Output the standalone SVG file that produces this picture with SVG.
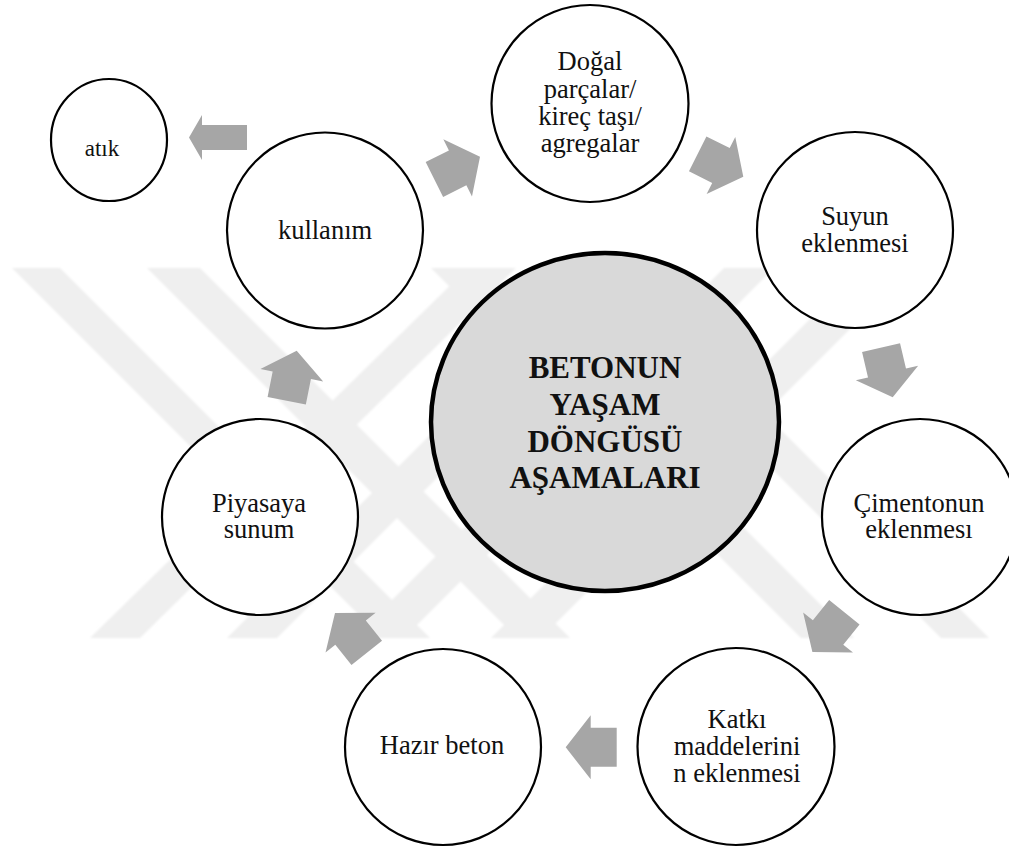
<svg xmlns="http://www.w3.org/2000/svg" xmlns:xlink="http://www.w3.org/1999/xlink" width="1009" height="848" viewBox="0 0 1009 848">
  <style>
    .node { fill: #ffffff; stroke: #000000; stroke-width: 2.2; }
    .hub { fill: #d9d9d9; stroke: #000000; stroke-width: 4.5; }
    .arrow { fill: #a6a6a6; }
    .band { fill: #efefef; }
  </style>
  <defs>
    <!-- block arrow, tip at the origin, pointing along +x -->
    <path id="blk" d="M0,0 L-25,-32 L-25,-19.5 L-51,-19.5 L-51,19.5 L-25,19.5 L-25,32 Z"/>
    <filter id="soft" x="-5%" y="-5%" width="110%" height="110%">
      <feGaussianBlur stdDeviation="1.2"/>
    </filter>
  </defs>

  <rect width="1009" height="848" fill="#ffffff"/>

  <!-- faint background emblem: two crossed double bands -->
  <g id="emblem" filter="url(#soft)">
    <polygon class="band" points="12,268 60,268 430,638 382,638"/>
    <polygon class="band" points="147,268 200,268 570,638 517,638"/>
    <polygon class="band" points="90,638 140,638 516,268 468,268"/>
    <polygon class="band" points="227,638 277,638 647,268 597,268"/>
    <polygon class="band" points="941,638 989,638 619,268 571,268"/>
    <polygon class="band" points="801,638 854,638 484,268 431,268"/>
    <polygon class="band" points="861,268 911,268 541,638 491,638"/>
    <polygon class="band" points="724,268 774,268 404,638 354,638"/>
  </g>

  <!-- connectors -->
  <g id="connectors" class="arrow">
    <path d="M189,137.5 L202,115 L202,125 L247,125 L247,150 L202,150 L202,160 Z"/>
    <use xlink:href="#blk" transform="translate(480,156.7) rotate(-26.6)"/>
    <use xlink:href="#blk" transform="translate(743.3,176.7) rotate(26.6)"/>
    <use xlink:href="#blk" transform="translate(892.7,397.3) rotate(76.8)"/>
    <use xlink:href="#blk" transform="translate(812.4,652) rotate(128.8)"/>
    <use xlink:href="#blk" transform="translate(565.7,747.3) rotate(180)"/>
    <use xlink:href="#blk" transform="translate(335,613) rotate(231.5)"/>
    <use xlink:href="#blk" transform="translate(296.7,350.7) rotate(-78.7)"/>
  </g>

  <g id="hub">
    <ellipse class="hub" cx="605" cy="422" rx="174" ry="169"/>
    <g font-family="'Liberation Serif', 'Times New Roman', serif" font-size="31" font-weight="bold" fill="#111111" text-anchor="middle">
      <text x="605" y="378">BETONUN</text>
      <text x="605" y="415">YAŞAM</text>
      <text x="605" y="452">DÖNGÜSÜ</text>
      <text x="605" y="488">AŞAMALARI</text>
    </g>
  </g>

  <g font-family="'Liberation Serif', 'Times New Roman', serif" font-size="26.5" font-weight="normal" fill="#111111" text-anchor="middle">
    <g id="atik">
      <ellipse class="node" cx="109" cy="140" rx="58" ry="61"/>
      <text x="102" y="156" font-size="23">atık</text>
    </g>

    <g id="kullanim">
      <circle class="node" cx="325" cy="230.5" r="98"/>
      <text x="325" y="239">kullanım</text>
    </g>

    <g id="dogal">
      <circle class="node" cx="590" cy="103.5" r="98.5"/>
      <text x="590" y="70">Doğal</text>
      <text x="590" y="98">parçalar/</text>
      <text x="590" y="125">kireç taşı/</text>
      <text x="590" y="152">agregalar</text>
    </g>

    <g id="suyun">
      <circle class="node" cx="855" cy="230" r="98"/>
      <text x="855" y="225">Suyun</text>
      <text x="855" y="252">eklenmesi</text>
    </g>

    <g id="cimento">
      <circle class="node" cx="920" cy="517" r="98"/>
      <text x="919" y="512">Çimentonun</text>
      <text x="919" y="538">eklenmesı</text>
    </g>

    <g id="katki">
      <circle class="node" cx="736" cy="746.5" r="98.5"/>
      <text x="737" y="728">Katkı</text>
      <text x="737" y="755">maddelerini</text>
      <text x="737" y="782">n eklenmesi</text>
    </g>

    <g id="hazir">
      <circle class="node" cx="443" cy="747" r="98"/>
      <text x="442" y="754">Hazır beton</text>
    </g>

    <g id="piyasa">
      <circle class="node" cx="260" cy="517" r="98"/>
      <text x="259" y="512">Piyasaya</text>
      <text x="259" y="538">sunum</text>
    </g>
  </g>
</svg>
